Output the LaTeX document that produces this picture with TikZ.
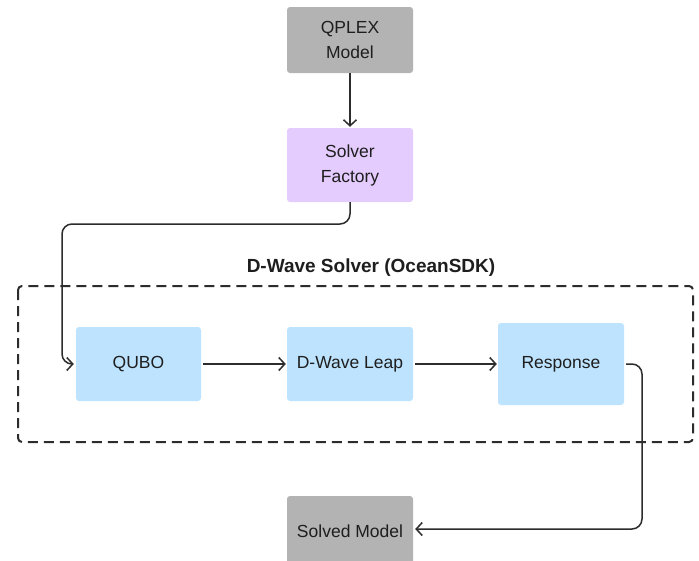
\documentclass[tikz,border=0pt]{standalone}
\usepackage{fontspec}
\setmainfont{Liberation Sans}
\usetikzlibrary{arrows.meta}
\definecolor{graybox}{HTML}{B3B3B3}
\definecolor{purplebox}{HTML}{E5CCFF}
\definecolor{bluebox}{HTML}{BDE3FF}
\definecolor{ink}{HTML}{1E1E1E}
\definecolor{linec}{HTML}{2C2C2C}
\tikzset{
  box/.style={rectangle, rounded corners=3pt, draw=none, text=ink, align=center,
    font=\fontsize{17.5}{25}\selectfont, inner sep=0pt},
  graynode/.style={box, fill=graybox},
  purplenode/.style={box, fill=purplebox},
  bluenode/.style={box, fill=bluebox},
  conn/.style={draw=linec, line width=1.5pt, rounded corners=10pt,
    -{Straight Barb[length=6pt,width=13pt,line width=1.5pt]}},
  groupbox/.style={draw=linec, line width=2pt, dash pattern=on 10pt off 6pt, rounded corners=4pt},
  titletext/.style={font=\fontsize{19}{22}\bfseries\selectfont, text=ink}
}
\begin{document}
\begin{tikzpicture}[x=1pt,y=-1pt]
\clip (0,0) rectangle (699,560);
\fill[white] (0,0) rectangle (699,560);
% group
\draw[groupbox] (18,286) rectangle (693,442);
\node[titletext] (title) at (371,268) {D-Wave Solver (OceanSDK)};
% nodes
\node[graynode, minimum width=126pt, minimum height=66pt] (qplex) at (350,40) {QPLEX\\Model};
\node[purplenode, minimum width=126pt, minimum height=74pt] (factory) at (350,165) {Solver\\Factory};
\node[bluenode, minimum width=125pt, minimum height=74pt] (qubo) at (138.5,364) {QUBO};
\node[bluenode, minimum width=126pt, minimum height=74pt] (leap) at (350,364) {D-Wave Leap};
\node[bluenode, minimum width=126pt, minimum height=82pt] (resp) at (561,364) {Response};
\node[graynode, minimum width=126pt, minimum height=70pt] (solved) at (350,531) {Solved Model};
% connectors
\draw[conn, shorten >=1pt] (qplex.south) -- (factory.north);
\draw[conn, shorten >=2pt] (factory.south) -- (350,224) -- (62,224) -- (62,364) -- (qubo.west);
\draw[conn, shorten <=2pt, shorten >=1pt] (qubo.east) -- (leap.west);
\draw[conn, shorten <=2pt, shorten >=1pt] (leap.east) -- (resp.west);
\draw[conn, shorten <=2pt, shorten >=2pt] (resp.east) -- (642,364) -- (642,529) -- (solved.east |- 0,529);
\end{tikzpicture}
\end{document}
